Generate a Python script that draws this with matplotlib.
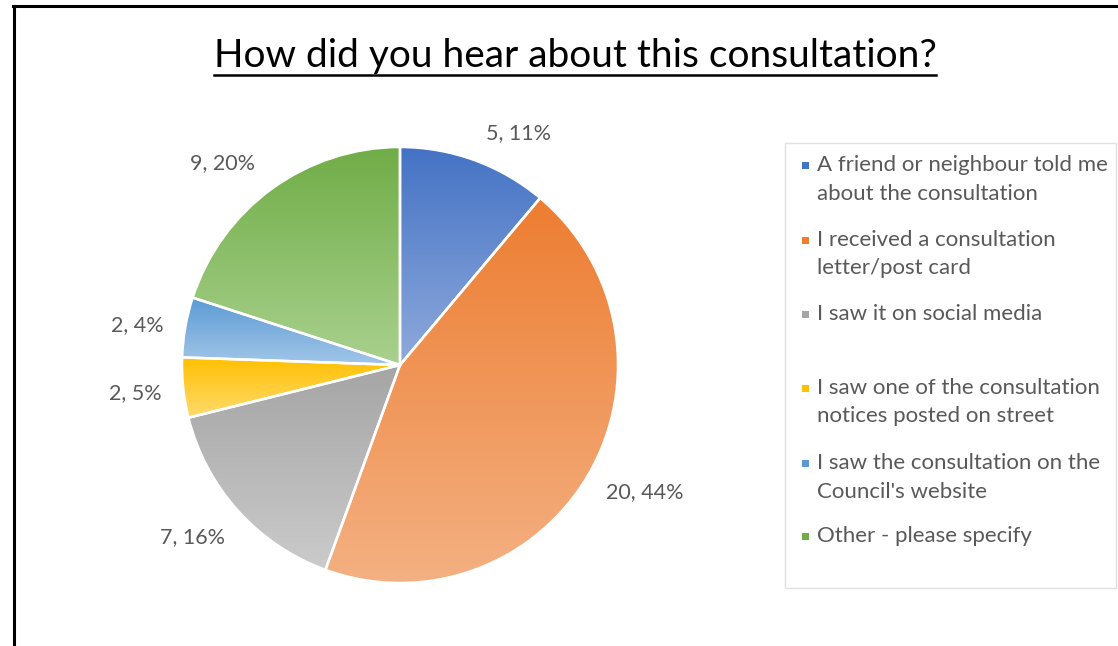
import numpy as np
import matplotlib
matplotlib.use("Agg")
from matplotlib import pyplot as plt
from matplotlib.patches import Rectangle
from matplotlib.lines import Line2D
from matplotlib.colors import LinearSegmentedColormap

TITLE = "How did you hear about this consultation?"
CATEGORIES = [
    "A friend or neighbour told me\nabout the consultation",
    "I received a consultation\nletter/post card",
    "I saw it on social media",
    "I saw one of the consultation\nnotices posted on street",
    "I saw the consultation on the\nCouncil's website",
    "Other - please specify",
]
COUNTS = [5, 20, 7, 2, 2, 9]
LABELS = ["5, 11%", "20, 44%", "7, 16%", "2, 5%", "2, 4%", "9, 20%"]
TOP_COLORS = ["#4472C4", "#ED7D31", "#A5A5A5", "#FFC000", "#5B9BD5", "#70AD47"]
BOTTOM_COLORS = ["#8FAADC", "#F4B183", "#CBCBCB", "#FFDB6E", "#A2C6E8", "#A9D18E"]

# layout (pixels in the 1118x646 canvas)
W, H = 1118, 646
LABEL_XY = [(519, 133), (645, 492), (192, 537), (135, 393), (137, 325), (222, 163)]
ENTRY_Y = [165, 240, 314, 388, 463, 536]
FONT = "Lato"
TXT = "#595959"


def px(x, y):
    return x / W, 1 - y / H


fig = plt.figure(figsize=(W / 100, H / 100), dpi=100)

# outer frame (left and top visible)
fig.add_artist(Line2D([14 / W, 14 / W], [0, 1 - 5.5 / H], color="black", lw=2.2, transform=fig.transFigure))
fig.add_artist(Line2D([13 / W, 1], [1 - 5.5 / H, 1 - 5.5 / H], color="black", lw=2.2, transform=fig.transFigure))

# pie axes centred on (400, 365), radius 218 px
cx, cy, R, half = 400, 365, 218, 300
ax = fig.add_axes([(cx - half) / W, (H - cy - half) / H, 2 * half / W, 2 * half / H])
lim = half / R

wedges, texts = ax.pie(COUNTS, labels=LABELS, startangle=90, counterclock=False, radius=1.0,
                       wedgeprops=dict(edgecolor="white", linewidth=1.8),
                       textprops=dict(fontsize=15.5, color=TXT, family=FONT))
for t, (lx, ly) in zip(texts, LABEL_XY):
    t.set_position(((lx - cx) / R, (cy - ly) / R))
    t.set_ha("center"); t.set_va("center")

grad = np.linspace(0, 1, 256).reshape(-1, 1)
for w, c0, c1 in zip(wedges, TOP_COLORS, BOTTOM_COLORS):
    verts = w.get_path().vertices
    y0, y1 = verts[:, 1].min(), verts[:, 1].max()
    x0, x1 = verts[:, 0].min(), verts[:, 0].max()
    cmap = LinearSegmentedColormap.from_list("g", [c0, c1])
    im = ax.imshow(grad, cmap=cmap, extent=[x0, x1, y0, y1], aspect="auto", zorder=1.5, origin="upper")
    im.set_clip_path(w)
    w.set_facecolor("none"); w.set_zorder(2)
ax.set_xlim(-lim, lim); ax.set_ylim(-lim, lim); ax.set_aspect("equal"); ax.axis("off")

# title with underline
title = fig.text(*px(575, 67), TITLE, ha="center", va="baseline", fontsize=28, family="Lato", color="black")
fig.canvas.draw()
bb = title.get_window_extent()
uy = 1 - 75 / H
fig.add_artist(Line2D([bb.x0 / W, bb.x1 / W], [uy, uy], color="black", lw=1.8, transform=fig.transFigure))

# legend box
lx0, ly0, lx1, ly1 = 785, 143, 1116, 588
fig.add_artist(Rectangle(px(lx0, ly1), (lx1 - lx0) / W, (ly1 - ly0) / H, transform=fig.transFigure,
                         facecolor="white", edgecolor="#E0E0E0", lw=1.0))
for cat, col, yy in zip(CATEGORIES, TOP_COLORS, ENTRY_Y):
    mx, my = px(805, yy)
    fig.add_artist(Rectangle((mx - 3.5 / W, my - 3.5 / H), 7 / W, 7 / H, transform=fig.transFigure,
                             facecolor=col, edgecolor="none"))
    for k, line in enumerate(cat.split("\n")):
        fig.text(*px(817, yy + 28.5 * k), line, ha="left", va="center", fontsize=16, family=FONT, color=TXT)

fig.savefig("out.png", dpi=100)
